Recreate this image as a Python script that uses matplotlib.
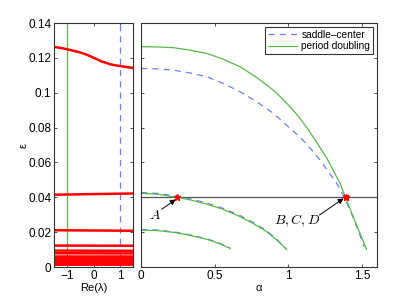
import matplotlib
matplotlib.use("Agg")
import matplotlib.pyplot as plt
import numpy as np

plt.rcParams['font.family'] = ['Liberation Sans', 'DejaVu Sans']
plt.rcParams['mathtext.fontset'] = 'cm'

# Left panel: Re(lambda) vs epsilon
re_lam = [-1.5, -1.03, -0.52, -0.25, 0.0, 0.3, 0.65, 0.85, 1.04, 1.5]
eps_top = [0.1264, 0.1251, 0.1232, 0.1218, 0.1201, 0.1180, 0.1163, 0.1157, 0.1153, 0.1142]
flat_left = [0.0415, 0.0211, 0.0123, 0.0094, 0.0079, 0.0066, 0.0057, 0.0049,
             0.0042, 0.0036, 0.0030, 0.0025, 0.0020, 0.0016]
flat_right = [0.0422, 0.0208, 0.0122, 0.0093, 0.0078, 0.0066, 0.0057, 0.0049,
              0.0042, 0.0036, 0.0030, 0.0025, 0.0020, 0.0016]

# Right panel branches: alpha vs epsilon
pd1_a = [0.0, 0.11, 0.22, 0.33, 0.446, 0.56, 0.672, 0.785, 0.898, 0.95, 1.01, 1.07,
         1.125, 1.2, 1.26, 1.35, 1.385, 1.46, 1.53]
pd1_e = [0.1265, 0.1263, 0.1259, 0.1245, 0.1226, 0.1192, 0.1149, 0.1088, 0.1015,
         0.0973, 0.0920, 0.0862, 0.0800, 0.0705, 0.0625, 0.0480, 0.0403, 0.0245, 0.0102]
sc1_a = [0.0, 0.11, 0.22, 0.33, 0.446, 0.56, 0.672, 0.785, 0.898, 0.95, 1.01, 1.07,
         1.125, 1.215, 1.328, 1.378, 1.441, 1.514]
sc1_e = [0.1140, 0.1137, 0.1130, 0.1114, 0.1092, 0.1053, 0.1006, 0.0948, 0.0882,
         0.0843, 0.0796, 0.0752, 0.0705, 0.0614, 0.0480, 0.0403, 0.0280, 0.0117]

pd2_a = [0.0, 0.12, 0.242, 0.34, 0.446, 0.56, 0.672, 0.76, 0.853, 0.92, 0.989]
pd2_e = [0.0423, 0.0417, 0.0400, 0.0384, 0.0361, 0.0330, 0.0289, 0.0250, 0.0203,
         0.0155, 0.0101]
sc2_a = [0.0, 0.12, 0.242, 0.34, 0.446, 0.56, 0.672, 0.76, 0.853, 0.92, 0.985]
sc2_e = [0.0428, 0.0422, 0.0406, 0.0390, 0.0367, 0.0336, 0.0295, 0.0256, 0.0208,
         0.0160, 0.0103]

pd3_a = [0.0, 0.11, 0.22, 0.33, 0.446, 0.53, 0.604]
pd3_e = [0.0212, 0.0209, 0.0199, 0.0182, 0.0159, 0.0135, 0.0107]
sc3_a = [0.0, 0.11, 0.22, 0.33, 0.446, 0.53, 0.604]
sc3_e = [0.0215, 0.0212, 0.0202, 0.0185, 0.0162, 0.0138, 0.0109]

eps_cut = 0.04
star_a = [0.245, 1.39]

fig = plt.figure(figsize=(4.16, 3.0), dpi=100)
axL = fig.add_axes([0.130, 0.110, 0.190, 0.813])
axR = fig.add_axes([0.339, 0.110, 0.567, 0.813])

green = '#55bb44'
blue = '#6f7fff'
red = '#ff0000'
dash = (0, (5, 4))

# left
axL.axvline(-1, color=green, lw=0.9)
axL.axvline(1, color=blue, lw=0.9, ls=dash)
axL.plot(re_lam, eps_top, color=red, lw=1.8)
for l, r in zip(flat_left, flat_right):
    axL.plot([-1.5, 1.5], [l, r], color=red, lw=1.8)
axL.set_xlim(-1.5, 1.5)
axL.set_ylim(0, 0.14)
axL.set_xticks([-1, 0, 1])
axL.set_xticklabels(['\u22121', '0', '1'])
axL.set_yticks([0, 0.02, 0.04, 0.06, 0.08, 0.1, 0.12, 0.14])
axL.set_yticklabels(['0', '0.02', '0.04', '0.06', '0.08', '0.1', '0.12', '0.14'])
axL.set_xlabel('Re(\u03bb)', fontsize=8, labelpad=1)
axL.set_ylabel('\u03b5', fontsize=8, labelpad=0)

# right
axR.axhline(eps_cut, color='#555555', lw=0.9)
axR.plot(sc1_a, sc1_e, color=blue, lw=0.9, ls=dash, label='saddle\u2013center')
axR.plot(pd1_a, pd1_e, color=green, lw=0.9, label='period doubling')
axR.plot(sc2_a, sc2_e, color=blue, lw=0.9, ls=dash)
axR.plot(pd2_a, pd2_e, color=green, lw=0.9)
axR.plot(sc3_a, sc3_e, color=blue, lw=0.9, ls=dash)
axR.plot(pd3_a, pd3_e, color=green, lw=0.9)
axR.plot(star_a, [eps_cut, eps_cut], ls='none', marker='*', color=red, ms=5)
axR.plot([star_a[1]], [eps_cut], ls='none', marker='s', color=red, ms=3.5)

axR.text(0.095, 0.0298, '$A$', fontsize=10, ha='center', va='center')
axR.text(1.057, 0.0266, '$B,C,D$', fontsize=10, ha='center', va='center')
arrow = dict(arrowstyle='-|>', color='k', lw=0.7, mutation_scale=8, shrinkA=0, shrinkB=0)
axR.annotate('', xy=(0.235, 0.0388), xytext=(0.14, 0.0331), arrowprops=arrow)
axR.annotate('', xy=(1.374, 0.0394), xytext=(1.21, 0.0298), arrowprops=arrow)

axR.set_xlim(0, 1.6)
axR.set_ylim(0, 0.14)
axR.set_xticks([0, 0.5, 1, 1.5])
axR.set_xticklabels(['0', '0.5', '1', '1.5'])
axR.set_yticks([0, 0.02, 0.04, 0.06, 0.08, 0.1, 0.12, 0.14])
axR.set_yticklabels([])
axR.set_xlabel('\u03b1', fontsize=8, labelpad=1)
leg = axR.legend(loc='upper right', fontsize=7.3, frameon=True, fancybox=False,
                 edgecolor='k', borderpad=0.3, labelspacing=0.15, handlelength=2.9,
                 handletextpad=0.4, borderaxespad=0.35)
leg.get_frame().set_linewidth(0.8)

for ax in (axL, axR):
    ax.tick_params(direction='in', top=True, right=True, labelsize=8.5, length=2.5,
                   width=0.6, pad=2, colors='#333333', labelcolor='k')
    for s in ax.spines.values():
        s.set_linewidth(0.8)
        s.set_color('#333333')

fig.savefig('out.png', dpi=100)
